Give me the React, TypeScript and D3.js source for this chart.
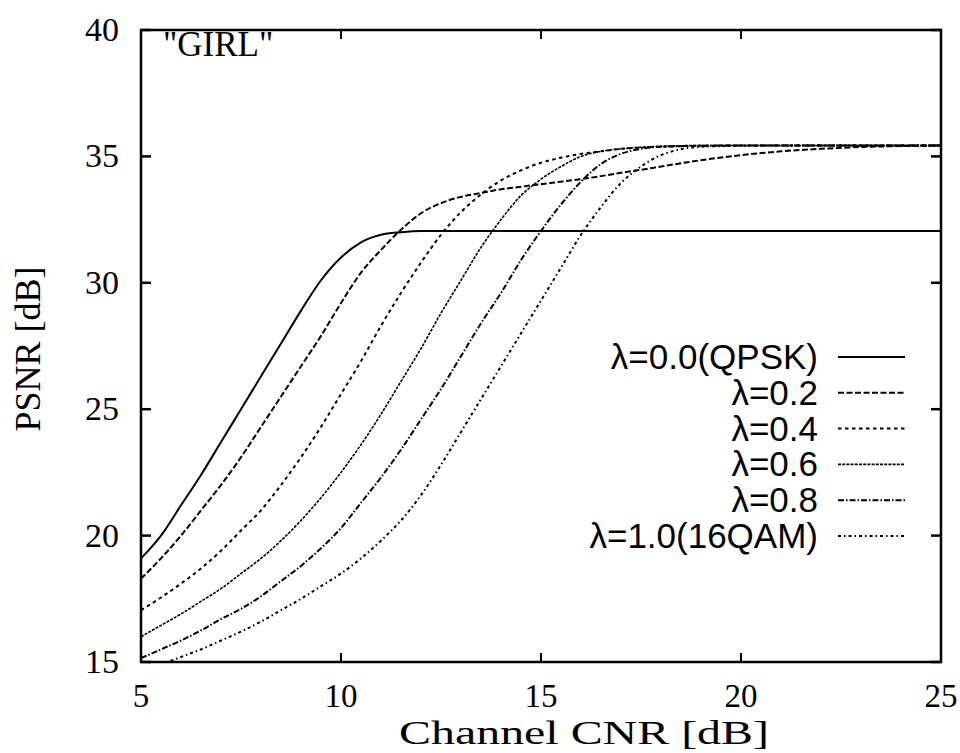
import React from "react";
import * as d3 from "d3";

const cnr = [5, 5.5, 6, 6.5, 7, 7.5, 8, 8.5, 9, 9.5, 10, 10.5, 11, 11.5, 12, 12.5, 13, 13.5, 14, 14.5, 15, 15.5, 16, 16.5, 17, 17.5, 18, 19, 20, 21, 22, 23, 24, 25];

const psnrL00 = [19.1, 20.0, 21.2, 22.4, 23.7, 25.0, 26.3, 27.6, 28.9, 30.1, 31.0, 31.6, 31.9, 32.0, 32.05, 32.05, 32.05, 32.05, 32.05, 32.05, 32.05, 32.05, 32.05, 32.05, 32.05, 32.05, 32.05, 32.05, 32.05, 32.05, 32.05, 32.05, 32.05, 32.05];
const psnrL02 = [18.3, 19.1, 20.0, 21.0, 22.0, 23.1, 24.3, 25.5, 26.7, 27.9, 29.2, 30.4, 31.3, 32.1, 32.75, 33.15, 33.4, 33.55, 33.7, 33.8, 33.9, 34.0, 34.1, 34.22, 34.35, 34.47, 34.6, 34.85, 35.05, 35.2, 35.3, 35.37, 35.41, 35.43];
const psnrL04 = [17.05, 17.55, 18.1, 18.7, 19.4, 20.2, 21.0, 22.0, 23.1, 24.3, 25.6, 26.9, 28.3, 29.6, 30.8, 31.9, 32.8, 33.5, 34.05, 34.45, 34.75, 34.95, 35.1, 35.2, 35.3, 35.35, 35.38, 35.42, 35.43, 35.43, 35.43, 35.43, 35.43, 35.43];
const psnrL06 = [16.0, 16.45, 16.9, 17.4, 17.9, 18.5, 19.1, 19.8, 20.6, 21.5, 22.5, 23.6, 24.8, 26.1, 27.4, 28.8, 30.1, 31.4, 32.5, 33.45, 34.1, 34.6, 35.0, 35.2, 35.3, 35.36, 35.4, 35.43, 35.43, 35.43, 35.43, 35.43, 35.43, 35.43];
const psnrL08 = [15.15, 15.5, 15.85, 16.25, 16.7, 17.1, 17.6, 18.2, 18.8, 19.5, 20.3, 21.3, 22.3, 23.4, 24.6, 25.8, 27.1, 28.4, 29.6, 30.9, 32.05, 33.1, 34.0, 34.7, 35.1, 35.3, 35.38, 35.42, 35.43, 35.43, 35.43, 35.43, 35.43, 35.43];
const psnrL10 = [14.6, 14.9, 15.2, 15.5, 15.85, 16.2, 16.6, 17.05, 17.5, 18.0, 18.5, 19.1, 19.8, 20.6, 21.6, 22.8, 24.1, 25.4, 26.7, 28.0, 29.3, 30.6, 31.9, 33.0, 33.95, 34.6, 35.05, 35.38, 35.42, 35.43, 35.43, 35.43, 35.43, 35.43];

const seriesLabels = ["λ=0.0(QPSK)", "λ=0.2", "λ=0.4", "λ=0.6", "λ=0.8", "λ=1.0(16QAM)"];
const seriesValues = [psnrL00, psnrL02, psnrL04, psnrL06, psnrL08, psnrL10];
const dashes = ["none", "6,2.5", "3.5,3.5", "3,1.2", "6,2,1.5,2", "3,3,1.5,3"];
const widths = [2, 2, 2, 1.6, 2, 2];

const xTicks = [5, 10, 15, 20, 25];
const yTicks = [15, 20, 25, 30, 35, 40];

export default function App() {
  const W = 960, H = 753;
  const left = 141, right = 941, top = 30, bottom = 662;
  const x = d3.scaleLinear().domain([5, 25]).range([left, right]);
  const y = d3.scaleLinear().domain([15, 40]).range([bottom, top]);
  const line = d3.line<[number, number]>().x(d => x(d[0])).y(d => y(d[1])).curve(d3.curveMonotoneX);
  const serif = "'Liberation Serif', 'Times New Roman', serif";
  const sans = "'Liberation Sans', Arial, sans-serif";
  const legX1 = 838, legX2 = 905, legTextX = 818, legY0 = 357, legDy = 35.8;

  return (
    <svg width={W} height={H} style={{ position: "absolute", left: 0, top: 0, background: "#fff" }}>
      <defs>
        <clipPath id="plotClip">
          <rect x={left} y={top} width={right - left} height={bottom - top} />
        </clipPath>
      </defs>
      <rect x={0} y={0} width={W} height={H} fill="#fff" />
      <g clipPath="url(#plotClip)">
        {seriesValues.map((vals, i) => (
          <path key={i} d={line(cnr.map((c, j) => [c, vals[j]] as [number, number])) || ""}
            fill="none" stroke="#000" strokeWidth={widths[i]} strokeDasharray={dashes[i]} />
        ))}
      </g>
      {xTicks.map(t => (
        <g key={"xt" + t}>
          <line x1={x(t)} x2={x(t)} y1={bottom} y2={bottom - 9} stroke="#000" strokeWidth={2} />
          <line x1={x(t)} x2={x(t)} y1={top} y2={top + 9} stroke="#000" strokeWidth={2} />
          <text x={x(t)} y={707} textAnchor="middle" fontFamily={serif} fontSize={33}>{t}</text>
        </g>
      ))}
      {yTicks.map(t => (
        <g key={"yt" + t}>
          <line x1={left} x2={left + 10} y1={y(t)} y2={y(t)} stroke="#000" strokeWidth={2.5} />
          <line x1={right} x2={right - 10} y1={y(t)} y2={y(t)} stroke="#000" strokeWidth={2.5} />
          <text x={119} y={y(t) + 11} textAnchor="end" fontFamily={serif} fontSize={34}>{t}</text>
        </g>
      ))}
      <rect x={left} y={top} width={right - left} height={bottom - top} fill="none" stroke="#000" strokeWidth={2.5} />
      <text x={163} y={56} fontFamily={serif} fontSize={35}>"GIRL"</text>
      <text x={584} y={744} textAnchor="middle" fontFamily={serif} fontSize={33} textLength={370} lengthAdjust="spacingAndGlyphs">Channel CNR [dB]</text>
      <text transform="translate(40,349) rotate(-90)" textAnchor="middle" fontFamily={serif} fontSize={36}>PSNR [dB]</text>
      {seriesLabels.map((lab, i) => (
        <g key={"lg" + i}>
          <text x={legTextX} y={legY0 + i * legDy + 12} textAnchor="end" fontFamily={sans} fontSize={35}>{lab}</text>
          <line x1={legX1} x2={legX2} y1={legY0 + i * legDy} y2={legY0 + i * legDy} stroke="#000" strokeWidth={widths[i]} strokeDasharray={dashes[i]} />
        </g>
      ))}
    </svg>
  );
}
